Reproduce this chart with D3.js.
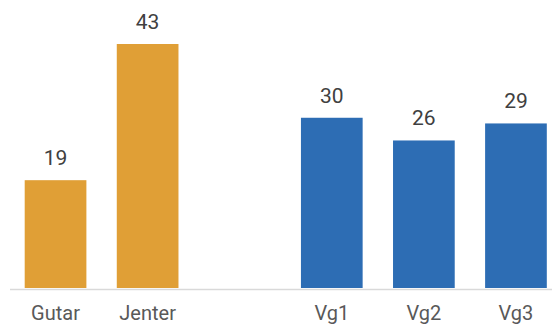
<!DOCTYPE html>
<html>
<head>
<meta charset="utf-8">
<script src="https://cdn.jsdelivr.net/npm/d3@7"></script>
<style>
  html, body { margin: 0; padding: 0; background: #fff; }
  svg { display: block; font-family: Roboto, "Noto Sans", sans-serif; }
</style>
</head>
<body>
<svg id="chart" width="552" height="326"></svg>
<script>
// Categories, with an empty slot separating the two groups
const categories = ["Gutar", "Jenter", "", "Vg1", "Vg2", "Vg3"];
const values = [19, 43, null, 30, 26, 29];
const groups = ["kjønn", "kjønn", null, "trinn", "trinn", "trinn"];
const groupColors = { "kjønn": "#E09F36", "trinn": "#2D6DB4" };

const svg = d3.select("#chart");
const baseline = 288;

const x = d3.scaleBand()
  .domain(d3.range(categories.length))
  .range([9.5, 562])
  .paddingInner(0.33)
  .paddingOuter(0.165);

const y = d3.scaleLinear()
  .domain([0, 43])
  .range([baseline, 44]);

const data = categories.map((c, i) => ({ i, cat: c, v: values[i], g: groups[i] }));
const bars = data.filter(d => d.v !== null);

// Bars
svg.append("g")
  .selectAll("rect")
  .data(bars)
  .join("rect")
  .attr("x", d => x(d.i))
  .attr("width", x.bandwidth())
  .attr("y", d => y(d.v))
  .attr("height", d => y(0) - y(d.v))
  .attr("fill", d => groupColors[d.g]);

// Value labels above bars
svg.append("g")
  .selectAll("text")
  .data(bars)
  .join("text")
  .attr("x", d => x(d.i) + x.bandwidth() / 2)
  .attr("y", d => y(d.v) - 15)
  .attr("text-anchor", "middle")
  .attr("font-size", 21)
  .attr("fill", "#404040")
  .text(d => d.v);

// Category axis
const axis = svg.append("g")
  .attr("transform", `translate(0,${baseline + 1})`)
  .call(d3.axisBottom(x).tickSize(0).tickFormat(i => categories[i]));
axis.select(".domain")
  .attr("stroke", "#D9D9D9")
  .attr("stroke-width", 1.5);
axis.selectAll("text")
  .attr("font-size", 20)
  .attr("fill", "#595959")
  .attr("font-family", "Roboto, 'Noto Sans', sans-serif")
  .attr("dy", 0)
  .attr("y", 31);
</script>
</body>
</html>
